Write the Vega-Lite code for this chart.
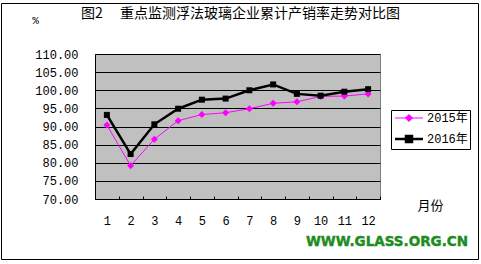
{
  "$schema": "https://vega.github.io/schema/vega-lite/v6.json",
  "width": 285,
  "height": 145,
  "autosize": {"type": "none"},
  "padding": {"left": 95, "top": 54, "right": 101, "bottom": 65},
  "background": "white",
  "config": {
    "view": {"fill": "#C0C0C0", "stroke": "#808080", "strokeWidth": 1},
    "axis": {"labelColor": "black", "titleColor": "black"}
  },
  "datasets": {
    "rates": [
      {"month": 1, "series": "2015年", "value": 90.4},
      {"month": 2, "series": "2015年", "value": 79.2},
      {"month": 3, "series": "2015年", "value": 86.5},
      {"month": 4, "series": "2015年", "value": 91.6},
      {"month": 5, "series": "2015年", "value": 93.3},
      {"month": 6, "series": "2015年", "value": 93.8},
      {"month": 7, "series": "2015年", "value": 94.9},
      {"month": 8, "series": "2015年", "value": 96.4},
      {"month": 9, "series": "2015年", "value": 96.8},
      {"month": 10, "series": "2015年", "value": 98.3},
      {"month": 11, "series": "2015年", "value": 98.4},
      {"month": 12, "series": "2015年", "value": 99.0},
      {"month": 1, "series": "2016年", "value": 93.2},
      {"month": 2, "series": "2016年", "value": 82.4},
      {"month": 3, "series": "2016年", "value": 90.6},
      {"month": 4, "series": "2016年", "value": 94.9},
      {"month": 5, "series": "2016年", "value": 97.4},
      {"month": 6, "series": "2016年", "value": 97.7},
      {"month": 7, "series": "2016年", "value": 100.0},
      {"month": 8, "series": "2016年", "value": 101.6},
      {"month": 9, "series": "2016年", "value": 99.0},
      {"month": 10, "series": "2016年", "value": 98.5},
      {"month": 11, "series": "2016年", "value": 99.6},
      {"month": 12, "series": "2016年", "value": 100.3}
    ],
    "heading": [{"label": "图2　  重点监测浮法玻璃企业累计产销率走势对比图"}],
    "notes": [{"label": "WWW.GLASS.ORG.CN"}]
  },
  "layer": [
    {
      "data": {"name": "rates"},
      "encoding": {
        "x": {
          "field": "month", "type": "quantitative",
          "scale": {"domain": [0.5, 12.5], "nice": false, "zero": false},
          "axis": {
            "values": [1, 2, 3, 4, 5, 6, 7, 8, 9, 10, 11, 12],
            "tickCount": 50,
            "labelOverlap": false,
            "labelFlush": false,
            "format": "d",
            "grid": false,
            "tickOffset": 11.875,
            "labelOffset": -11.875,
            "tickSize": -3,
            "tickColor": "black",
            "domainColor": "black",
            "labelFont": "Liberation Mono",
            "labelFontSize": 12,
            "labelPadding": 19,
            "labelBaseline": "top",
            "title": "月份",
            "titleFont": "Noto Sans CJK SC",
            "titleFontSize": 13,
            "titleFontWeight": "normal",
            "titleX": 335,
            "titleY": 6,
            "titleBaseline": "middle",
            "titleAlign": "center"
          }
        },
        "y": {
          "field": "value", "type": "quantitative",
          "scale": {"domain": [70, 110], "nice": false, "zero": false},
          "axis": {
            "values": [70, 75, 80, 85, 90, 95, 100, 105, 110],
            "tickCount": 50,
            "labelOverlap": false,
            "labelFlush": false,
            "format": ".2f",
            "grid": true,
            "gridColor": "black",
            "gridWidth": 1,
            "gridOpacity": 1,
            "ticks": false,
            "domainColor": "black",
            "labelFont": "Liberation Mono",
            "labelFontSize": 12,
            "labelPadding": 17,
            "title": "%",
            "titleFont": "Liberation Mono",
            "titleFontSize": 11,
            "titleFontWeight": "normal",
            "titleAngle": 0,
            "titleX": -60,
            "titleY": -34,
            "titleBaseline": "middle",
            "titleAlign": "center"
          }
        },
        "color": {
          "field": "series", "type": "nominal",
          "scale": {"domain": ["2015年", "2016年"], "range": ["#FF00FF", "#000000"]},
          "legend": {
            "title": null,
            "orient": "none",
            "legendX": 296,
            "legendY": 56,
            "strokeColor": "black",
            "fillColor": "white",
            "padding": 2,
            "symbolSize": 144,
            "symbolStrokeWidth": 1,
            "rowPadding": 7,
            "labelFont": "Liberation Mono, Noto Sans CJK SC",
            "labelFontSize": 12,
            "labelColor": "black",
            "encode": {
              "symbols": {
                "update": {
                  "x": {"value": 16},
                  "size": {"value": 144},
                  "shape": {"signal": "datum.value === '2015年' ? 'M-2.333,0L2.333,0M0,-0.583L0.583,0L0,0.583L-0.583,0Z' : 'M-2.333,0L2.333,0M-0.5,-0.5L0.5,-0.5L0.5,0.5L-0.5,0.5Z'"},
                  "fill": {"signal": "datum.value === '2015年' ? '#FF00FF' : '#000000'"},
                  "stroke": {"signal": "datum.value === '2015年' ? '#FF00FF' : '#000000'"},
                  "strokeWidth": {"signal": "datum.value === '2015年' ? 1 : 2.5"},
                  "opacity": {"value": 1},
                  "fillOpacity": {"value": 1},
                  "strokeOpacity": {"value": 1}
                }
              },
              "labels": {
                "update": {
                  "x": {"value": 34}
                }
              }
            }
          }
        }
      },
      "layer": [
        {
          "transform": [{"filter": "datum.series === '2015年'"}],
          "mark": {"type": "line", "strokeWidth": 1, "point": {"shape": "diamond", "size": 49, "filled": true}}
        },
        {
          "transform": [{"filter": "datum.series === '2016年'"}],
          "mark": {"type": "line", "strokeWidth": 2.5, "point": {"shape": "square", "size": 36, "filled": true}}
        }
      ]
    },
    {
      "data": {"name": "heading"},
      "mark": {"type": "text", "align": "left", "baseline": "middle", "font": "Noto Sans CJK SC", "fontSize": 14, "color": "black"},
      "encoding": {
        "text": {"field": "label"},
        "x": {"datum": -0.0895, "type": "quantitative"},
        "y": {"datum": 121.03, "type": "quantitative"}
      }
    },
    {
      "data": {"name": "notes"},
      "mark": {"type": "text", "align": "right", "baseline": "middle", "font": "DejaVu Sans", "fontWeight": "bold", "fontSize": 13.5, "color": "#1E8C1E", "stroke": "#1E8C1E", "strokeWidth": 0.4},
      "encoding": {
        "text": {"field": "label"},
        "x": {"datum": 16.205, "type": "quantitative"},
        "y": {"datum": 58.14, "type": "quantitative"}
      }
    },
    {
      "data": {"name": "notes"},
      "mark": {"type": "rect", "fill": null, "stroke": "black", "strokeWidth": 1},
      "encoding": {
        "x": {"datum": -3.4368, "type": "quantitative"},
        "x2": {"datum": 16.6474},
        "y": {"datum": 123.931, "type": "quantitative"},
        "y2": {"datum": 53.31}
      }
    }
  ]
}
